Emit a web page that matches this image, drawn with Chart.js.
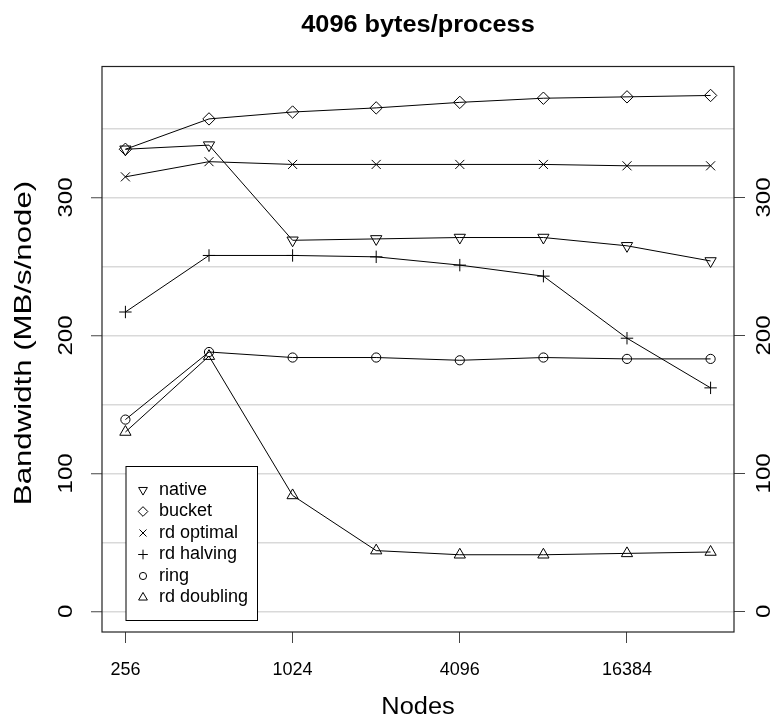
<!DOCTYPE html>
<html>
<head>
<meta charset="utf-8">
<script src="https://cdn.jsdelivr.net/npm/chart.js@4/dist/chart.umd.min.js"></script>
<style>
  html, body { margin: 0; padding: 0; background: #fff; }
  #wrap { width: 776px; height: 721px; }
</style>
</head>
<body>
<div id="wrap"><canvas id="chart" width="776" height="721"></canvas></div>
<script>
/* ---- data ---- */
const NODES = [256, 512, 1024, 2048, 4096, 8192, 16384, 32768];
const X_TICKS = [256, 1024, 4096, 16384];
const Y_GRID = [0, 50, 100, 150, 200, 250, 300, 350];
const Y_LABELS = [0, 100, 200, 300];

const SERIES_NAMES = ['native', 'bucket', 'rd optimal', 'rd halving', 'ring', 'rd doubling'];
const NATIVE      = [335, 338, 269, 270, 271, 271, 265, 254];
const BUCKET      = [335, 357, 362, 365, 369, 372, 373, 374];
const RD_OPTIMAL  = [315, 326, 324, 324, 324, 324, 323, 323];
const RD_HALVING  = [217, 258, 258, 257, 251, 243, 198, 162];
const RING        = [139, 188, 184, 184, 182, 184, 183, 183];
const RD_DOUBLING = [130, 185, 84, 44, 41, 41, 42, 43];

/* ---- marker styles (R pch 6, 5, 4, 3, 1, 2) ---- */
const MARKERS = [
  { style: 'triangle', rot: 180, r: 6.5 },
  { style: 'rectRot',  rot: 0,   r: 6.2 },
  { style: 'crossRot', rot: 0,   r: 6.4 },
  { style: 'cross',    rot: 0,   r: 6.2 },
  { style: 'circle',   rot: 0,   r: 4.6 },
  { style: 'triangle', rot: 0,   r: 6.5 }
];

const FONT = '"Liberation Sans", Arial, Helvetica, sans-serif';

const series = [NATIVE, BUCKET, RD_OPTIMAL, RD_HALVING, RING, RD_DOUBLING];
const datasets = series.map((vals, i) => ({
  label: SERIES_NAMES[i],
  data: NODES.map((n, j) => ({ x: n, y: vals[j] })),
  borderColor: '#000',
  borderWidth: 1,
  pointStyle: MARKERS[i].style,
  pointRotation: MARKERS[i].rot,
  pointRadius: MARKERS[i].r,
  pointHoverRadius: MARKERS[i].r,
  pointBorderColor: '#000',
  pointBorderWidth: 1,
  pointBackgroundColor: 'rgba(0,0,0,0)',
  tension: 0,
  fill: false
}));

// draws centred text, optionally rotated and stretched along its baseline
function drawText(ctx, s, x, y, size, opt) {
  opt = opt || {};
  ctx.save();
  ctx.translate(x, y);
  if (opt.rot) ctx.rotate(opt.rot);
  ctx.scale(opt.sx || 1, 1);
  ctx.font = (opt.bold ? 'bold ' : '') + size + 'px ' + FONT;
  ctx.fillStyle = '#000';
  ctx.textAlign = opt.align || 'center';
  ctx.textBaseline = 'middle';
  ctx.fillText(s, 0, 0);
  ctx.restore();
}

const framePlugin = {
  id: 'frame',
  afterDraw(chart) {
    const ctx = chart.ctx;
    const a = chart.chartArea;
    const y = chart.scales.y;

    // plot box
    ctx.save();
    ctx.strokeStyle = '#222';
    ctx.lineWidth = 1.2;
    ctx.strokeRect(a.left, a.top, a.right - a.left, a.bottom - a.top);
    ctx.restore();

    // titles
    const cx = (a.left + a.right) / 2;
    drawText(ctx, '4096 bytes/process', cx, 26, 23, { bold: true, sx: 1.1 });
    drawText(ctx, 'Nodes', cx, 708, 23.5, { sx: 1.08 });
    drawText(ctx, 'Bandwidth (MB/s/node)', 24, 343, 24, { rot: -Math.PI / 2, sx: 1.3 });

    // y tick labels, both sides, rotated like R
    Y_LABELS.forEach(v => {
      const py = y.getPixelForValue(v);
      drawText(ctx, String(v), 66, py, 20, { rot: -Math.PI / 2, sx: 1.2 });
      drawText(ctx, String(v), 764, py, 20, { rot: -Math.PI / 2, sx: 1.2 });
    });

    // legend
    const lx = 126, ly = 466.5, lw = 131.5, lh = 154;
    ctx.save();
    ctx.fillStyle = '#fff';
    ctx.fillRect(lx, ly, lw, lh);
    ctx.strokeStyle = '#000';
    ctx.lineWidth = 1;
    ctx.strokeRect(lx, ly, lw, lh);
    ctx.restore();
    SERIES_NAMES.forEach((name, i) => {
      const ry = 490 + i * 21.5;
      ctx.save();
      ctx.strokeStyle = '#000';
      ctx.fillStyle = 'rgba(0,0,0,0)';
      ctx.lineWidth = 1;
      Chart.helpers.drawPoint(ctx, {
        pointStyle: MARKERS[i].style,
        rotation: MARKERS[i].rot,
        radius: MARKERS[i].r * 0.78,
        borderWidth: 1
      }, 143, ry);
      ctx.restore();
      drawText(ctx, name, 159, ry, 18, { align: 'left' });
    });
  }
};

new Chart(document.getElementById('chart'), {
  type: 'line',
  data: { datasets },
  plugins: [framePlugin],
  options: {
    responsive: false,
    animation: false,
    events: [],
    layout: { padding: { top: 66.5, left: 0, right: 0, bottom: 0 } },
    plugins: { legend: { display: false }, tooltip: { enabled: false }, title: { display: false } },
    scales: {
      x: {
        type: 'logarithmic',
        position: 'bottom',
        min: Math.pow(2, 7.72),
        max: Math.pow(2, 15.28),
        afterBuildTicks: s => { s.ticks = X_TICKS.map(v => ({ value: v })); },
        afterFit: s => { s.height = 89; },
        border: { display: false },
        grid: { drawOnChartArea: false, drawTicks: true, tickLength: 11, tickColor: '#444', tickWidth: 1 },
        ticks: {
          autoSkip: false, maxRotation: 0, minRotation: 0, padding: 16,
          color: '#000', font: { family: FONT, size: 18 },
          callback: v => String(v)
        }
      },
      y: {
        type: 'linear',
        position: 'left',
        min: -15, max: 395,
        afterBuildTicks: s => { s.ticks = Y_GRID.map(v => ({ value: v })); },
        afterFit: s => { s.width = 102; },
        border: { display: false },
        grid: {
          color: '#d9d9d9', lineWidth: 1.5,
          tickLength: 11, tickWidth: 1,
          tickColor: c => (c.tick && c.tick.value % 100 === 0) ? '#444' : 'rgba(0,0,0,0)'
        },
        ticks: { display: false }
      },
      y2: {
        type: 'linear',
        position: 'right',
        display: true,
        min: -15, max: 395,
        afterBuildTicks: s => { s.ticks = Y_GRID.map(v => ({ value: v })); },
        afterFit: s => { s.width = 42; },
        border: { display: false },
        grid: {
          drawOnChartArea: false,
          tickLength: 11, tickWidth: 1,
          color: c => (c.tick && c.tick.value % 100 === 0) ? '#444' : 'rgba(0,0,0,0)',
          tickColor: c => (c.tick && c.tick.value % 100 === 0) ? '#444' : 'rgba(0,0,0,0)'
        },
        ticks: { display: false }
      }
    }
  }
});
</script>
</body>
</html>
